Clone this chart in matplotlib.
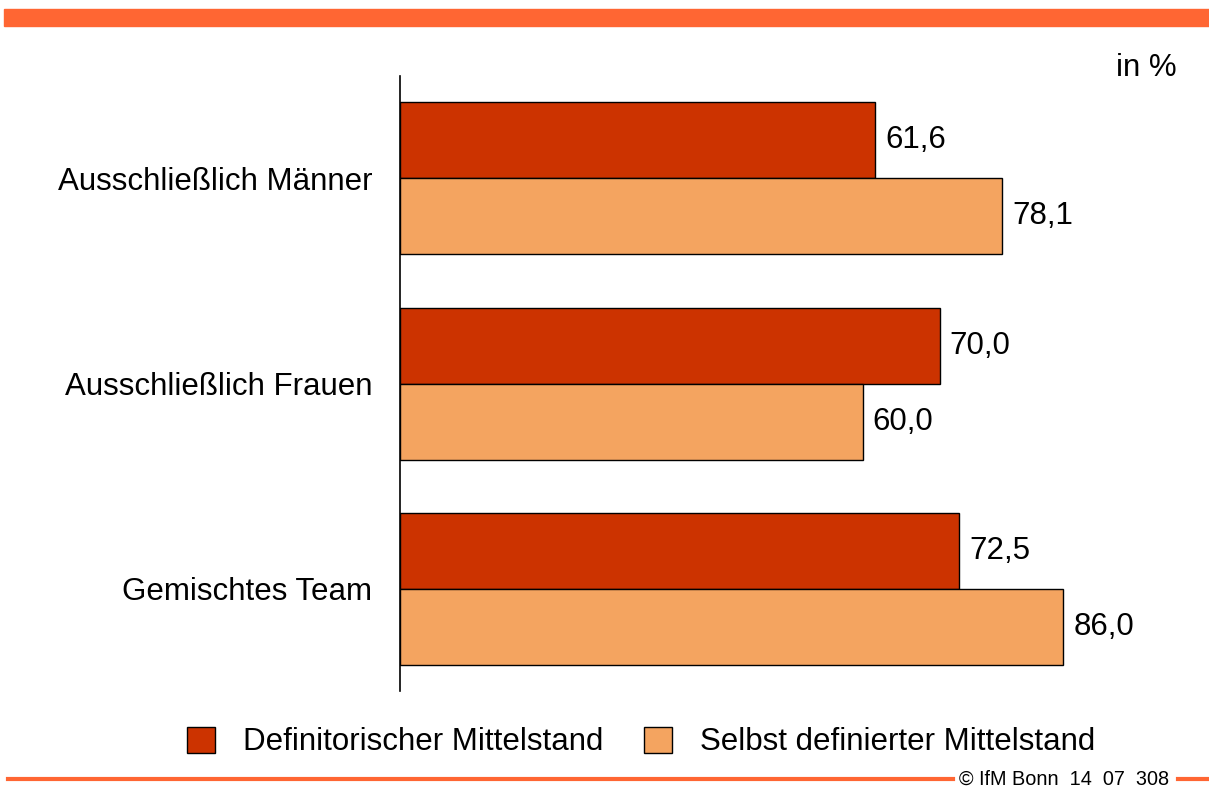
import numpy as np
import matplotlib.pyplot as plt
from matplotlib.patches import Rectangle
from matplotlib.lines import Line2D

categories = ["Ausschließlich Männer", "Ausschließlich Frauen", "Gemischtes Team"]
definitorisch = [61.6, 70.0, 72.5]
selbst = [78.1, 60.0, 86.0]
series_names = ["Definitorischer Mittelstand", "Selbst definierter Mittelstand"]

plt.rcParams['font.family'] = ['Liberation Sans', 'DejaVu Sans']
fs = 22.5

W, H = 1209, 787
fig = plt.figure(figsize=(W / 100, H / 100), dpi=100)

# axes placed in pixel coordinates
left, right, top, bottom = 400, 1209, 76, 691
ax = fig.add_axes([left / W, 1 - bottom / H, (right - left) / W, (bottom - top) / H])

px_per_unit = 475 / 61.6
ax.set_xlim(0, (right - left) / px_per_unit)
group_px = 205.5
ax.set_ylim((bottom - 178) / group_px, -(178 - top) / group_px)

y = np.arange(len(categories))
h = 76 / group_px
b1 = ax.barh(y - h / 2, definitorisch, height=h, color="#CC3300", edgecolor="black", linewidth=1)
b2 = ax.barh(y + h / 2, selbst, height=h, color="#F4A460", edgecolor="black", linewidth=1)

for bars, vals in [(b1, definitorisch), (b2, selbst)]:
    for rect, v in zip(bars, vals):
        ax.text(v + 10 / px_per_unit, rect.get_y() + rect.get_height() / 2,
                f"{v:.1f}".replace(".", ","), va="center", ha="left", fontsize=fs)

ax.set_yticks(y)
ax.set_yticklabels(categories, fontsize=fs)
ax.tick_params(axis="y", length=0, pad=20)
ax.set_xticks([])
for s in ["top", "right", "bottom"]:
    ax.spines[s].set_visible(False)
ax.spines["left"].set_linewidth(1.2)

# header bar
fig.patches.append(Rectangle((4 / W, 1 - 26 / H), 1 - 4 / W, 17 / H,
                             transform=fig.transFigure, color="#FF6633", zorder=0))
fig.text(1177 / W, 1 - 68 / H, "in %", ha="right", va="center", fontsize=fs)

# legend
handles = [Rectangle((0, 0), 1, 1, facecolor="#CC3300", edgecolor="black"),
           Rectangle((0, 0), 1, 1, facecolor="#F4A460", edgecolor="black")]
fig.legend(handles, series_names, loc="center", bbox_to_anchor=(641 / W, 1 - 742 / H),
           ncol=2, frameon=False, fontsize=fs, handlelength=0.9, handleheight=0.9,
           handletextpad=0.9, columnspacing=1.3, borderpad=0, borderaxespad=0)

# footer
fig.lines.append(Line2D([8 / W, 953 / W], [1 - 779 / H] * 2, transform=fig.transFigure,
                        color="#FF6633", linewidth=3))
fig.lines.append(Line2D([1178 / W, 1], [1 - 779 / H] * 2, transform=fig.transFigure,
                        color="#FF6633", linewidth=3))
fig.text(1064 / W, 1 - 779 / H, "© IfM Bonn  14  07  308", ha="center", va="center", fontsize=14.3)

fig.savefig("out.png", dpi=100)
